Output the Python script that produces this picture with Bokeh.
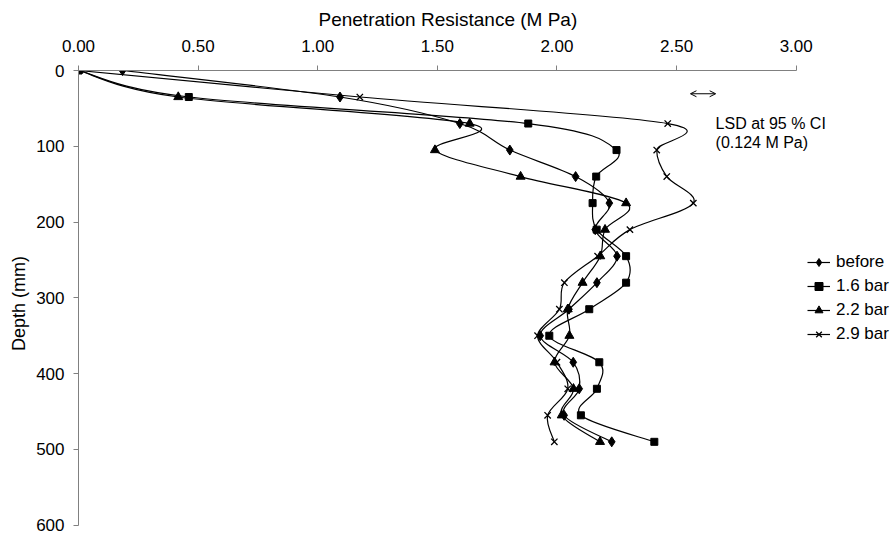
import math
from bokeh.plotting import figure
from bokeh.models import (Range1d, FixedTicker, NumeralTickFormatter, Label, Arrow,
                          OpenHead, Legend, LegendItem, ColumnDataSource, Title)
from bokeh.embed import file_html
from bokeh.resources import INLINE

# ---------------- data ----------------
depth = [0, 35, 70, 105, 140, 175, 210, 245, 280, 315, 350, 385, 420, 455, 490]
before = [0.184, 1.093, 1.594, 1.803, 2.078, 2.219, 2.16, 2.251, 2.167, 2.05, 1.93, 2.068, 2.093, 2.03, 2.229]
bar_1_6 = [0.0, 0.461, 1.880, 2.249, 2.164, 2.149, 2.166, 2.289, 2.289, 2.135, 1.968, 2.177, 2.167, 2.100, 2.407]
bar_2_2 = [0.0, 0.417, 1.635, 1.490, 1.848, 2.289, 2.201, 2.181, 2.107, 2.045, 2.052, 1.99, 2.069, 2.02, 2.18]
bar_2_9 = [0.0, 1.176, 2.463, 2.417, 2.459, 2.570, 2.305, 2.17, 2.031, 2.010, 1.919, 2.00, 2.045, 1.961, 1.989]
series_names = ["before", "1.6 bar", "2.2 bar", "2.9 bar"]
x_ticks = [0.0, 0.5, 1.0, 1.5, 2.0, 2.5, 3.0]
y_ticks = [0, 100, 200, 300, 400, 500, 600]
lsd_value = 0.124

FONT = "Liberation Sans"

p = figure(width=895, height=536, output_backend="svg", toolbar_location=None,
           x_axis_location="above",
           x_range=Range1d(0, 817 / 239.23), y_range=Range1d((536 - 70) / 0.7578, 0),
           min_border_left=78, min_border_right=0, min_border_top=70, min_border_bottom=0)
p.outline_line_color = None
p.xgrid.visible = False
p.ygrid.visible = False
p.background_fill_color = "white"
p.border_fill_color = "white"

for ax in (p.xaxis[0], p.yaxis[0]):
    ax.axis_line_color = "#808080"
    ax.major_tick_line_color = "#808080"
    ax.minor_tick_line_color = None
    ax.major_tick_in = 0
    ax.major_tick_out = 5
    ax.major_label_text_font = FONT
    ax.major_label_text_font_size = "17px"
    ax.major_label_text_color = "black"
    ax.major_label_standoff = 9
p.xaxis.major_label_standoff = 14

p.xaxis.bounds = (0, 3)
p.yaxis.bounds = (0, 600)
p.xaxis.ticker = FixedTicker(ticks=x_ticks)
p.yaxis.ticker = FixedTicker(ticks=y_ticks)
p.xaxis.formatter = NumeralTickFormatter(format="0.00")


def smooth_segments(xs, ys):
    n = len(xs)
    out = dict(x0=[], y0=[], x1=[], y1=[], cx0=[], cy0=[], cx1=[], cy1=[])
    for i in range(n - 1):
        im = max(i - 1, 0)
        ip2 = min(i + 2, n - 1)
        out["x0"].append(xs[i]); out["y0"].append(ys[i])
        out["x1"].append(xs[i + 1]); out["y1"].append(ys[i + 1])
        out["cx0"].append(xs[i] + (xs[i + 1] - xs[im]) / 6.0)
        out["cy0"].append(ys[i] + (ys[i + 1] - ys[im]) / 6.0)
        out["cx1"].append(xs[i + 1] - (xs[ip2] - xs[i]) / 6.0)
        out["cy1"].append(ys[i + 1] - (ys[ip2] - ys[i]) / 6.0)
    return out


markers = [("diamond", 10, 1), ("square", 7, 1), ("triangle", 9, 1), ("x", 9, 1.3)]
items = []
for name, vals, (mk, sz, lw) in zip(series_names, [before, bar_1_6, bar_2_2, bar_2_9], markers):
    seg = ColumnDataSource(smooth_segments(vals, depth))
    bz = p.bezier(x0="x0", y0="y0", x1="x1", y1="y1", cx0="cx0", cy0="cy0", cx1="cx1", cy1="cy1",
                  source=seg, line_color="black", line_width=1.2)
    sc = p.scatter(x=vals, y=depth, marker=mk, size=sz, fill_color="black",
                   line_color="black", line_width=lw)
    leg_line = p.line(x=[float("nan")], y=[float("nan")], line_color="black", line_width=1.2)
    items.append(LegendItem(label=name, renderers=[leg_line, sc]))

legend = Legend(items=items, location=(729, 192), glyph_width=23, glyph_height=20,
                label_height=20, spacing=4, label_standoff=6, padding=0, margin=0,
                border_line_color=None, background_fill_alpha=0,
                label_text_font=FONT, label_text_font_size="17px", label_text_color="black")
p.add_layout(legend)

# axis titles
p.add_layout(Title(text="Penetration Resistance (M Pa)", align="left", offset=240,
                   text_font=FONT, text_font_size="19px", text_font_style="normal",
                   text_color="black", standoff=13), "above")
p.add_layout(Title(text="Depth (mm)", align="center", offset=9,
                   text_font=FONT, text_font_size="18px", text_font_style="normal",
                   text_color="black", standoff=9), "left")

# LSD annotation
lsd_x0 = 2.558
p.add_layout(Arrow(start=OpenHead(size=6, line_width=1), end=OpenHead(size=6, line_width=1),
                   x_start=lsd_x0, y_start=30.7, x_end=lsd_x0 + lsd_value * 0.85, y_end=30.7,
                   line_width=1, line_color="black"))
p.add_layout(Label(x=2.663, y=70.3, text="LSD at 95 % CI", text_align="left",
                   text_baseline="alphabetic", text_font=FONT, text_font_size="16px",
                   text_color="black"))
p.add_layout(Label(x=2.663, y=95.0, text="(0.124 M Pa)", text_align="left",
                   text_baseline="alphabetic", text_font=FONT, text_font_size="16px",
                   text_color="black"))

open("out.html", "w").write(file_html(p, INLINE))
